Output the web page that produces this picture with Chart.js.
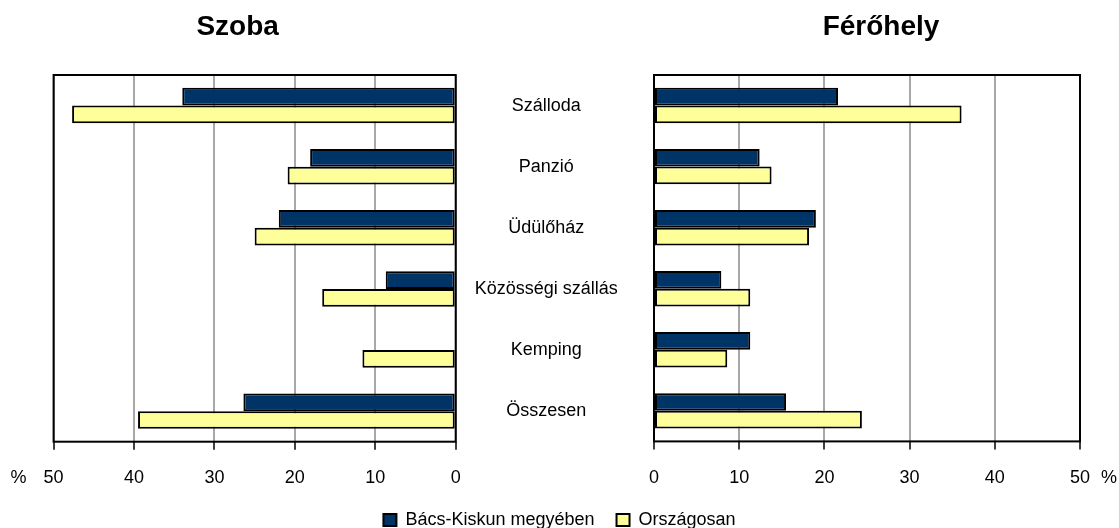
<!DOCTYPE html>
<html>
<head>
<meta charset="utf-8">
<script src="https://cdn.jsdelivr.net/npm/chart.js@4"></script>
<style>
  body { margin: 0; background: #fff; }
  #wrap { position: relative; width: 1119px; height: 528px; }
  #wrap canvas { position: absolute; left: 0; top: 0; }
</style>
</head>
<body>
<div id="wrap">
  <canvas id="szoba" width="1119" height="528"></canvas>
  <canvas id="ferohely" width="1119" height="528"></canvas>
</div>
<script>
const categories = ['Szálloda', 'Panzió', 'Üdülőház', 'Közösségi szállás', 'Kemping', 'Összesen'];
const seriesNames = ['Bács-Kiskun megyében', 'Országosan'];
const panelTitles = ['Szoba', 'Férőhely'];

// percent
const szobaBacs = [34.0, 18.1, 22.0, 8.7, 0, 26.4];
const szobaOrsz = [47.7, 20.9, 25.0, 16.6, 11.6, 39.5];
const ferohelyBacs = [21.6, 12.4, 19.0, 7.9, 11.3, 15.5];
const ferohelyOrsz = [36.1, 13.8, 18.2, 11.3, 8.6, 24.4];

const xMin = 0, xMax = 50, xStep = 10;

const FONT = '"Liberation Sans", Arial, sans-serif';
Chart.defaults.font.family = FONT;
Chart.defaults.font.size = 18;
Chart.defaults.color = '#000';

const navy = '#003366';
const yellow = '#FFFF99';

function makeDatasets(a, b) {
  return [
    { label: seriesNames[0], data: a, backgroundColor: navy, borderColor: '#000', borderWidth: 2, borderSkipped: false },
    { label: seriesNames[1], data: b, backgroundColor: yellow, borderColor: '#000', borderWidth: 2, borderSkipped: false }
  ];
}

// frame around the plot, panel title and the "%" beside the axis
const decor = {
  id: 'decor',
  afterDatasetsDraw(chart, args, opts) {
    const ctx = chart.ctx;
    const a = chart.chartArea;
    const x = chart.scales.x;
    ctx.save();
    ctx.strokeStyle = '#000';
    ctx.lineWidth = 2;
    ctx.strokeRect(a.left, a.top, a.right - a.left, a.bottom - a.top);
    ctx.fillStyle = '#000';
    ctx.textAlign = 'center';
    ctx.textBaseline = 'middle';
    ctx.font = 'bold 28px ' + FONT;
    ctx.fillText(opts.title, (a.left + a.right) / 2 + opts.titleShift, 27);
    ctx.font = '18px ' + FONT;
    ctx.fillText('%', opts.side === 'left' ? x.left - 35 : x.right + 29, 478);
    ctx.restore();
  }
};

function xAxis(reverse) {
  return {
    type: 'linear',
    min: xMin, max: xMax, reverse: reverse,
    ticks: { stepSize: xStep, padding: 18, font: { size: 18 } },
    grid: { color: '#a8a8a8', lineWidth: 2, tickLength: 8, tickColor: '#000', tickWidth: 1.5 },
    border: { display: false },
    afterFit(s) { s.height = 8 + 18 + 21.6; }
  };
}

new Chart(document.getElementById('szoba'), {
  type: 'bar',
  data: { labels: categories, datasets: makeDatasets(szobaBacs, szobaOrsz) },
  plugins: [decor],
  options: {
    indexAxis: 'y',
    responsive: false,
    animation: false,
    devicePixelRatio: 1,
    categoryPercentage: 0.58,
    barPercentage: 1.0,
    layout: { padding: { left: 53.6, right: 465, top: 75, bottom: 38.7 } },
    scales: {
      x: xAxis(true),
      y: {
        position: 'right',
        grid: { display: false, drawTicks: false },
        border: { display: false },
        ticks: { crossAlign: 'center', padding: 19, font: { size: 18 } },
        afterFit(s) { s.width = 198.3; }
      }
    },
    plugins: {
      legend: { display: false },
      tooltip: { enabled: false },
      decor: { title: panelTitles[0], titleShift: -17, side: 'left' }
    }
  }
});

new Chart(document.getElementById('ferohely'), {
  type: 'bar',
  data: { labels: categories, datasets: makeDatasets(ferohelyBacs, ferohelyOrsz) },
  plugins: [decor],
  options: {
    indexAxis: 'y',
    responsive: false,
    animation: false,
    devicePixelRatio: 1,
    categoryPercentage: 0.58,
    barPercentage: 1.0,
    layout: { padding: { left: 0, right: 0, top: 75, bottom: 0 } },
    scales: {
      x: xAxis(false),
      y: {
        position: 'left',
        grid: { display: false, drawTicks: false },
        border: { display: false },
        ticks: { display: false },
        afterFit(s) { s.width = 654; }
      },
      y2: {
        type: 'linear',
        position: 'right',
        grid: { display: false, drawTicks: false },
        border: { display: false },
        ticks: { display: false },
        afterFit(s) { s.width = 39; }
      }
    },
    plugins: {
      legend: {
        position: 'bottom',
        maxHeight: 39,
        labels: { boxWidth: 13, boxHeight: 12, padding: 22, font: { size: 18 }, color: '#000' }
      },
      tooltip: { enabled: false },
      decor: { title: panelTitles[1], titleShift: 14, side: 'right' }
    }
  }
});
</script>
</body>
</html>
